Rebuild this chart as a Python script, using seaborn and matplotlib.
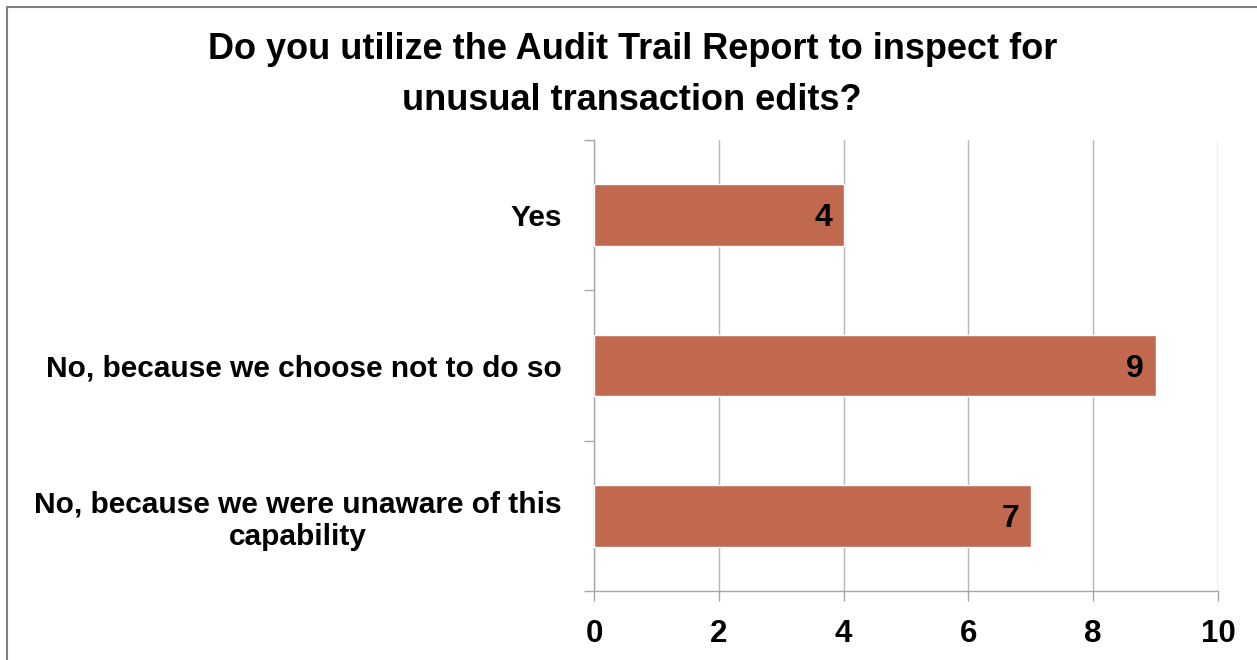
import matplotlib
matplotlib.use("Agg")
import matplotlib.pyplot as plt
from matplotlib.patches import Rectangle
import seaborn as sns
import pandas as pd

# Survey responses
categories = [
    "Yes",
    "No, because we choose not to do so",
    "No, because we were unaware of this\ncapability",
]
counts = [4, 9, 7]
x_ticks = [0, 2, 4, 6, 8, 10]

df = pd.DataFrame({"answer": categories, "count": counts})

sns.set_theme(style="white")
plt.rcParams["font.family"] = ["Liberation Sans", "DejaVu Sans"]

fig = plt.figure(figsize=(12.57, 6.6), dpi=100)
ax = fig.add_axes([0.4726, 0.1045, 0.4964, 0.6833])

bar_color = "#C0694F"
sns.barplot(data=df, x="count", y="answer", orient="h", color=bar_color,
            width=0.41, saturation=1, ax=ax, zorder=3)

ax.set_xlim(0, 10)
ax.set_ylim(2.5, -0.5)
ax.set_xticks(x_ticks)
ax.set_xticklabels([str(t) for t in x_ticks], fontsize=22.5, fontweight="bold",
                   color="black")
ax.set_xlabel("")
ax.set_ylabel("")

# vertical gridlines
ax.grid(axis="x", color="#B7B7B7", linewidth=1.0, zorder=0)
ax.grid(axis="y", visible=False)

for side in ["top", "right"]:
    ax.spines[side].set_visible(False)
for side in ["left", "bottom"]:
    ax.spines[side].set_color("#A6A6A6")
    ax.spines[side].set_linewidth(1.0)

ax.tick_params(axis="x", which="major", direction="out", length=7, width=1,
               color="#A6A6A6", pad=13, bottom=True)
ax.tick_params(axis="y", which="major", length=0, pad=23)
ax.set_yticks([-0.5, 0.5, 1.5, 2.5], minor=True)
ax.tick_params(axis="y", which="minor", direction="out", length=7, width=1,
               color="#A6A6A6", left=True)

for lbl in ax.get_yticklabels():
    lbl.set_fontsize(21.5)
    lbl.set_fontweight("bold")
    lbl.set_color("black")
    lbl.set_multialignment("center")

# value labels at the inner end of each bar
for i, v in enumerate(counts):
    ax.text(v - 0.19, i + 0.02, str(v), ha="right", va="center",
            fontsize=23, fontweight="bold", color="black", zorder=4)

fig.text(0.503, 0.886, "Do you utilize the Audit Trail Report to inspect for\nunusual transaction edits?",
         ha="center", va="center", fontsize=26, fontweight="bold",
         linespacing=1.6, color="black")

# outer frame
fig.patches.append(Rectangle((0.0056, -0.05), 1.05, 1.039, transform=fig.transFigure,
                             fill=False, edgecolor="#808080", linewidth=1.5))

fig.savefig("out.png", dpi=100, facecolor="white")
